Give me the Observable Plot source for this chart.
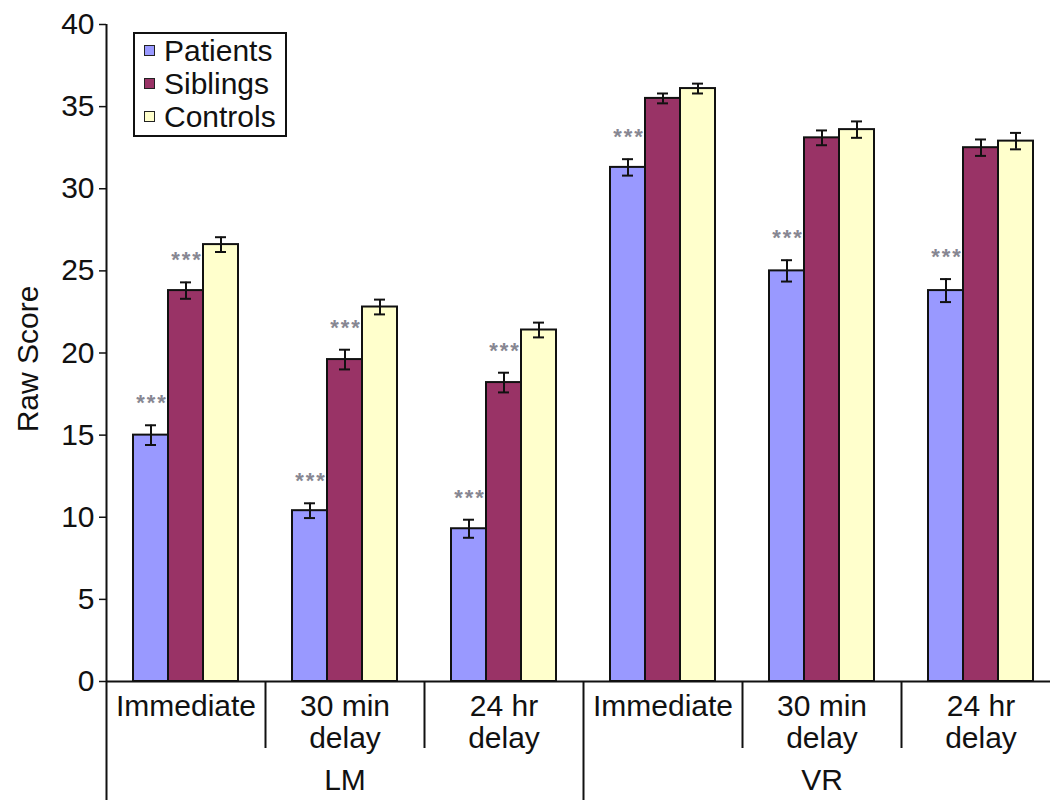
<!DOCTYPE html>
<html>
<head>
<meta charset="utf-8">
<script src="https://cdn.jsdelivr.net/npm/d3@7"></script>
<script src="https://cdn.jsdelivr.net/npm/@observablehq/plot@0.6"></script>
<style>
html, body { margin: 0; padding: 0; background: #fff; overflow: hidden; }
#wrap { position: relative; width: 1050px; height: 806px; overflow: hidden; }
#chart svg { max-width: none !important; }
#legend { position: absolute; left: 133px; top: 32px; width: 150px; height: 101px; border: 2px solid #111; background: #fff;
  font-family: "Liberation Sans", Arial, sans-serif; font-size: 30px; color: #111; }
#legend .row { height: 33px; line-height: 33px; display: flex; align-items: center; white-space: nowrap; }
#legend .sw { width: 9px; height: 9px; border: 1px solid #222; margin-left: 9px; margin-right: 9px; flex: none; }
</style>
</head>
<body>
<div id="wrap"><div id="chart"></div><div id="legend"></div></div>
<script>
// ---- data ----
const tests = ["LM Immediate", "LM 30 min", "LM 24 hr", "VR Immediate", "VR 30 min", "VR 24 hr"];
const testLabels = ["Immediate", "30 min\ndelay", "24 hr\ndelay", "Immediate", "30 min\ndelay", "24 hr\ndelay"];
const groups = ["LM", "VR"];
const groupCenters = ["LM 30 min", "VR 30 min"];
const groupStarts = ["LM Immediate", "VR Immediate"];
const series = ["Patients", "Siblings", "Controls"];
const colors = ["#9999ff", "#993366", "#ffffcc"];

const patients = [15.0, 10.4, 9.3, 31.3, 25.0, 23.8];
const siblings = [23.8, 19.6, 18.2, 35.5, 33.1, 32.5];
const controls = [26.6, 22.8, 21.4, 36.1, 33.6, 32.9];
const patientsErr = [0.6, 0.45, 0.55, 0.5, 0.65, 0.7];
const siblingsErr = [0.5, 0.6, 0.6, 0.3, 0.45, 0.5];
const controlsErr = [0.45, 0.45, 0.45, 0.3, 0.5, 0.5];
const patientsSig = [true, true, true, true, true, true];
const siblingsSig = [true, true, true, false, false, false];
const controlsSig = [false, false, false, false, false, false];
const yTicks = [0, 5, 10, 15, 20, 25, 30, 35, 40];
const yLabel = "Raw Score";
const starText = "*\u200A*\u200A*";

// ---- layout ----
const W = 1060, H = 806, mL = 106, mR = 0, mT = 24, mB = 125;
const plotH = H - mT - mB;
const facetW = (W - mL - mR) / tests.length;
const barW = 35;
const padOuter = (facetW / barW - series.length) / 2;
const font = "Liberation Sans, Arial, Helvetica, sans-serif";
const ink = "#111";

const values = [patients, siblings, controls];
const errs = [patientsErr, siblingsErr, controlsErr];
const sigs = [patientsSig, siblingsSig, controlsSig];
const rows = tests.flatMap((t, i) => series.map((s, j) => ({
  test: t, series: s, value: values[j][i], err: errs[j][i], sig: sigs[j][i]
})));
const testRows = tests.map((t, i) => ({test: t, label: testLabels[i]}));
const groupRows = groups.map((g, i) => ({test: groupCenters[i], label: g}));
const shortDiv = tests.filter(t => !groupStarts.includes(t)).map(t => ({test: t}));
const divDx = -(padOuter * barW + barW / 2);

const chart = Plot.plot({
  width: W, height: H,
  marginLeft: mL, marginRight: mR, marginTop: mT, marginBottom: mB,
  style: {fontFamily: font, fontSize: "30px", color: ink, background: "#fff", maxWidth: "none"},
  fx: {domain: tests, padding: 0, axis: null},
  x: {domain: series, paddingInner: 0, paddingOuter: padOuter, axis: null},
  y: {domain: [0, 40], axis: null},
  color: {domain: series, range: colors},
  marks: [
    Plot.barY(rows, {fx: "test", x: "series", y: "value", fill: "series", stroke: ink, strokeWidth: 2}),
    Plot.ruleX(rows, {fx: "test", x: "series", y1: d => d.value - d.err, y2: d => d.value + d.err, stroke: ink, strokeWidth: 2}),
    Plot.tickY(rows, {fx: "test", x: "series", y: d => d.value + d.err, insetLeft: 12, insetRight: 12, stroke: ink, strokeWidth: 2}),
    Plot.tickY(rows, {fx: "test", x: "series", y: d => d.value - d.err, insetLeft: 12, insetRight: 12, stroke: ink, strokeWidth: 2}),
    Plot.text(rows.filter(d => d.sig), {fx: "test", x: "series", y: d => d.value + d.err, text: () => starText,
      dy: -22, fill: "#878792", fontSize: 22, fontWeight: "bold"}),
    Plot.ruleY([0], {stroke: ink, strokeWidth: 2}),
    // y axis ticks + labels
    Plot.axisY(yTicks, {tickSize: 7, tickPadding: 5, fontSize: 30, stroke: ink, strokeWidth: 1.5, label: null}),
    // y axis title
    Plot.text([{test: groupStarts[0], label: yLabel}], {fx: "test", text: "label", frameAnchor: "left", textAnchor: "middle",
      dx: -78, dy: 6, rotate: -90, fontSize: 30, fill: ink}),
    // long dividers: axis line + LM/VR separator
    Plot.ruleX([{test: groupStarts[0]}], {fx: "test", x: () => series[0], dx: divDx, insetTop: 0, insetBottom: -119, stroke: ink, strokeWidth: 2}),
    Plot.ruleX([{test: groupStarts[1]}], {fx: "test", x: () => series[0], dx: divDx, insetTop: plotH, insetBottom: -119, stroke: ink, strokeWidth: 2}),
    // short dividers between sub-categories
    Plot.ruleX(shortDiv, {fx: "test", x: () => series[0], dx: divDx, insetTop: plotH, insetBottom: -67, stroke: ink, strokeWidth: 2}),
    // category labels
    Plot.text(testRows, {fx: "test", text: "label", frameAnchor: "bottom", lineAnchor: "top", dy: 12, lineHeight: 1.07, fontSize: 30, fill: ink}),
    Plot.text(groupRows, {fx: "test", text: "label", frameAnchor: "bottom", lineAnchor: "top", dy: 87, fontSize: 30, fill: ink})
  ]
});
document.getElementById("chart").appendChild(chart);

// legend
const legend = document.getElementById("legend");
series.forEach((s, i) => {
  const row = document.createElement("div");
  row.className = "row";
  const sw = document.createElement("span");
  sw.className = "sw";
  sw.style.background = colors[i];
  const tx = document.createElement("span");
  tx.textContent = s;
  row.appendChild(sw); row.appendChild(tx);
  legend.appendChild(row);
});
</script>
</body>
</html>
